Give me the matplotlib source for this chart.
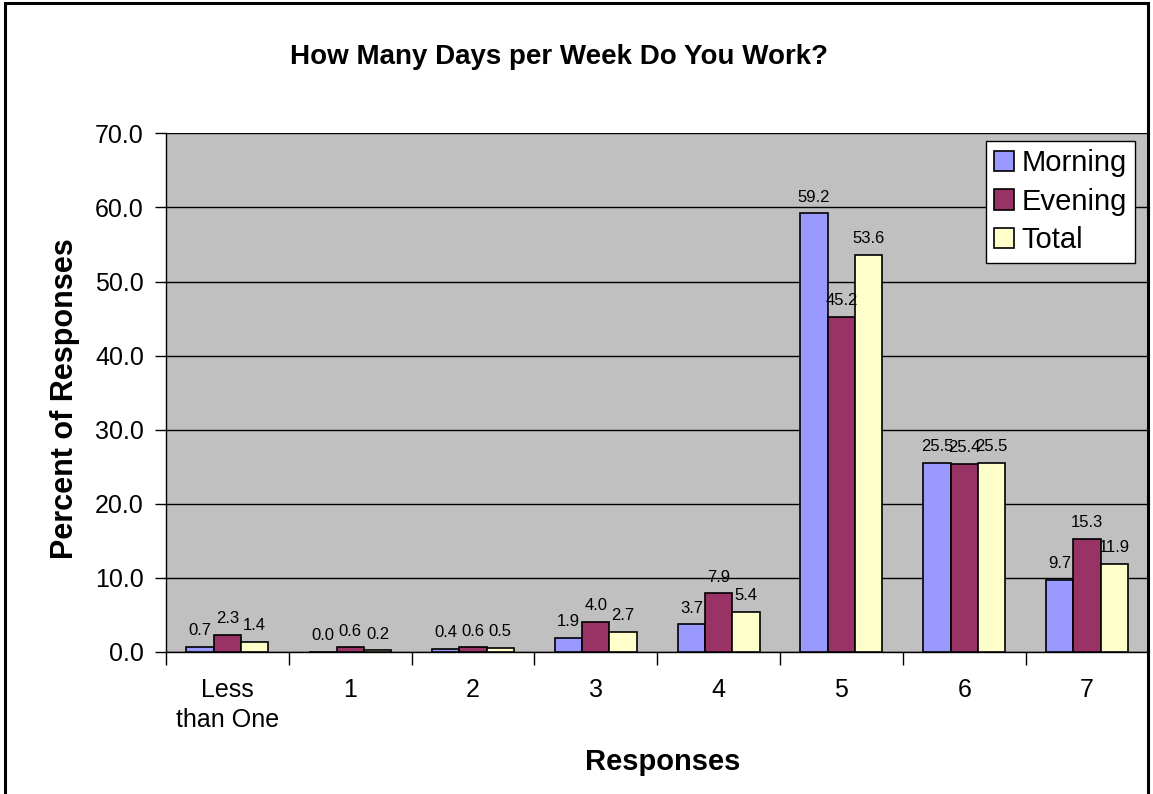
import matplotlib
matplotlib.use("Agg")
import matplotlib.pyplot as plt
from matplotlib.patches import Rectangle
import numpy as np

plt.rcParams['font.family'] = ['Liberation Sans', 'DejaVu Sans']

categories = ["Less\nthan One", "1", "2", "3", "4", "5", "6", "7"]
morning = [0.7, 0.0, 0.4, 1.9, 3.7, 59.2, 25.5, 9.7]
evening = [2.3, 0.6, 0.6, 4.0, 7.9, 45.2, 25.4, 15.3]
total = [1.4, 0.2, 0.5, 2.7, 5.4, 53.6, 25.5, 11.9]
series_names = ["Morning", "Evening", "Total"]
series_colors = ["#9999FF", "#993366", "#FFFFCC"]
y_ticks = [0, 10, 20, 30, 40, 50, 60, 70]

fig = plt.figure(figsize=(11.53, 7.94), dpi=100)
ax = fig.add_axes([0.144, 0.179, 0.852, 0.653])
ax.set_facecolor("#C0C0C0")

n = len(categories)
x = np.arange(n)
bw = 1 / 4.5
for i, (vals, name, col) in enumerate(zip([morning, evening, total], series_names, series_colors)):
    pos = x + (i - 1) * bw
    ax.bar(pos, vals, width=bw, color=col, edgecolor="black", linewidth=1.2,
           label=name, zorder=3)
    for px, v in zip(pos, vals):
        ax.annotate(f"{v:.1f}", (px, v), xytext=(0, 8.5), textcoords="offset points",
                    ha="center", va="baseline", fontsize=12, zorder=4)

ax.set_xlim(-0.5, n - 0.5)
ax.set_ylim(0, 70)
ax.set_yticks(y_ticks)
ax.set_yticklabels([f"{t:.1f}" for t in y_ticks], fontsize=18)
ax.yaxis.grid(True, color="black", linewidth=1)
ax.set_axisbelow(True)

ax.set_xticks(x)
ax.set_xticklabels(categories, fontsize=18, linespacing=1.28)
ax.tick_params(axis="x", length=0, pad=19)
ax.set_xticks(np.arange(-0.5, n, 1), minor=True)
ax.tick_params(axis="x", which="minor", length=9, width=1, direction="out")
ax.tick_params(axis="y", length=8, width=1, direction="out", pad=8)

for s in ["top", "right"]:
    ax.spines[s].set_visible(False)
ax.spines["left"].set_linewidth(1)
ax.spines["bottom"].set_linewidth(1)

fig.text(65 / 1153, 1 - 399 / 794, "Percent of Responses", rotation=90, ha="center",
         va="center", fontsize=22, fontweight="bold")
fig.text(0.5 * (586 + 739) / 1153, 1 - 762 / 794, "Responses", ha="center", va="center",
         fontsize=21, fontweight="bold")

fig.text(559 / 1153, 1 - 57 / 794, "How Many Days per Week Do You Work?", ha="center",
         va="center", fontsize=20, fontweight="bold")

leg = ax.legend(loc="upper right", bbox_to_anchor=(0.9865, 0.985), fontsize=21,
                frameon=True, fancybox=False, edgecolor="black", framealpha=1,
                handlelength=0.7, handleheight=0.7, handletextpad=0.25,
                labelspacing=0.36, borderpad=0.28, borderaxespad=0)
leg.get_frame().set_linewidth(1)
leg.get_frame().set_facecolor("white")

fig.patches.append(Rectangle((0.004, -0.02), 0.992, 1.016, transform=fig.transFigure,
                             fill=False, edgecolor="black", linewidth=2.2))

fig.savefig("out.png", dpi=100)
